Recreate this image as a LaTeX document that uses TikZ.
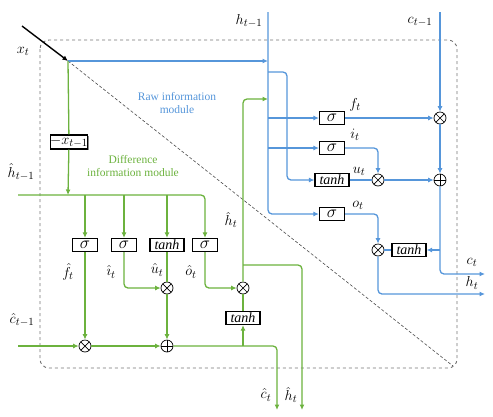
\documentclass[tikz,border=0pt]{standalone}
\usepackage{fontspec}
\setmainfont{Liberation Serif}
\usetikzlibrary{arrows.meta,shadows}
\definecolor{rawblue}{RGB}{86,150,218}
\definecolor{diffgreen}{RGB}{108,178,62}

\begin{document}
\begin{tikzpicture}[x=1pt,y=-1pt,>={Latex[length=5.5pt,width=5pt]},
	raw/.style={draw=rawblue, line width=1.3pt, rounded corners=4pt},
	diff/.style={draw=diffgreen, line width=1.3pt, rounded corners=4pt},
	gate/.style={draw, line width=1.2pt, fill=white, inner sep=0pt, minimum width=25pt, minimum height=13pt,
		drop shadow={shadow xshift=0.9pt, shadow yshift=-0.9pt, fill=black!45, opacity=1},
		font=\fontsize{16}{16}\selectfont},
	tgate/.style={gate, minimum width=34pt, font=\fontsize{14}{14}\selectfont\itshape},
	lab/.style={inner sep=0pt, font=\fontsize{15}{16}\selectfont},
	mul/.style={circle, draw, line width=0.7pt, fill=white, minimum size=12pt, inner sep=0pt,
		path picture={\draw[line width=0.7pt] (path picture bounding box.north west) -- (path picture bounding box.south east)
			(path picture bounding box.north east) -- (path picture bounding box.south west);}},
	add/.style={circle, draw, line width=0.7pt, fill=white, minimum size=12pt, inner sep=0pt,
		path picture={\draw[line width=0.7pt] (path picture bounding box.north) -- (path picture bounding box.south)
			(path picture bounding box.east) -- (path picture bounding box.west);}}]
	\useasboundingbox (0,0) rectangle (493,416);
	% frame and split
	\draw[dashed, black!55, line width=0.9pt, rounded corners=9pt] (40,40) rectangle (457,368);
	\coordinate (xs) at (22,26);
	\coordinate (xj) at (68,61);
	\draw[densely dashed, black!70, line width=0.6pt] (xj) -- (453,366);
	\draw[line width=1.4pt, ->] (xs) -- (xj);
	\node[lab] (xl) at (23,51) {$x_t$};
	% raw information module
	\coordinate (hx) at (268,61);
	\coordinate (htop) at (268,12);
	\coordinate (hb) at (268,72); \coordinate (hb2) at (287,72);
	\coordinate (hg) at (268,99);
	\coordinate (hf) at (268,118);
	\coordinate (hi) at (268,148);
	\coordinate (ctop) at (440,12);
	\coordinate (cb) at (440,250);
	\coordinate (cout) at (485,274);
	\coordinate (hout) at (485,294);
	\node[gate] (sf) at (332,118) {$\sigma$};
	\node[gate] (si) at (332,148) {$\sigma$};
	\node[tgate] (tu) at (332,180) {tanh};
	\node[gate] (so) at (332,214) {$\sigma$};
	\node[mul] (mf) at (440,118) {};
	\node[add] (ac) at (440,180) {};
	\node[mul] (mu) at (378,180) {};
	\node[mul] (mh) at (378,250) {};
	\node[tgate] (tc) at (409,250) {tanh};
	\draw[raw,->] (xj) -- (hx);
	\draw[raw,->] (htop) |- (so);
	\draw[raw,->] (hb) -- (hb2) |- (tu);
	\draw[raw,->] (hf) -- (sf);
	\draw[raw,->] (hi) -- (si);
	\draw[raw,->] (ctop) -- (mf);
	\draw[raw,->] (mf) -- (ac);
	\draw[raw,->] (ac) |- (cout);
	\draw[raw,->] (cb) -- (tc);
	\draw[raw] (tc) -- (mh);
	\draw[raw,->] (mh) |- (hout);
	\draw[raw,->] (sf) -- (mf);
	\draw[raw,->] (si) -| (mu);
	\draw[raw] (tu) -- (mu);
	\draw[raw,->] (mu) -- (ac);
	\draw[raw,->] (so) -| (mh);
	\node[lab] (hl1) at (249,21) {$h_{t-1}$};
	\node[lab] (cl1) at (420,22) {$c_{t-1}$};
	\node[lab] (fl) at (355,105) {$f_t$};
	\node[lab] (il) at (355,135) {$i_t$};
	\node[lab] (ul) at (359,171) {$u_t$};
	\node[lab] (ol) at (358,205) {$o_t$};
	\node[lab] (ctl) at (472,262) {$c_t$};
	\node[lab] (htl) at (472,283) {$h_t$};
	\node[text=rawblue, align=center, font=\fontsize{11.5}{13}\selectfont] (rawtxt) at (177,103) {Raw information\\module};
	% difference information module
	\node[gate, minimum width=34pt, minimum height=14pt, font=\fontsize{15}{15}\selectfont] (nx) at (69,142) {$-x_{t-1}$};
	\coordinate (gh) at (68,195);
	\coordinate (hl) at (18,195);
	\coordinate (b1) at (85,195); \coordinate (b2) at (124,195); \coordinate (b3) at (167,195);
	\coordinate (cl) at (18,346);
	\coordinate (gj) at (243,346);
	\coordinate (cend) at (277,410);
	\coordinate (hj) at (243,265);
	\coordinate (hend) at (302,410);
	\node[gate] (gsf) at (85,245) {$\sigma$};
	\node[gate] (gsi) at (124,245) {$\sigma$};
	\node[tgate] (gtu) at (167,245) {tanh};
	\node[gate] (gso) at (205,245) {$\sigma$};
	\node[mul] (gmf) at (85,346) {};
	\node[mul] (gmu) at (167,288) {};
	\node[add] (gac) at (167,346) {};
	\node[mul] (gmh) at (243,288) {};
	\node[tgate] (gtc) at (243,318) {tanh};
	\draw[diff] (xj) -- (nx);
	\draw[diff,->] (nx) -- (gh);
	\draw[diff,->] (hl) -| (gso);
	\draw[diff,->] (b1) -- (gsf);
	\draw[diff,->] (b2) -- (gsi);
	\draw[diff,->] (b3) -- (gtu);
	\draw[diff,->] (gsf) -- (gmf);
	\draw[diff,->] (gsi) |- (gmu);
	\draw[diff] (gtu) -- (gmu);
	\draw[diff,->] (gmu) -- (gac);
	\draw[diff,->] (gso) |- (gmh);
	\draw[diff,->] (cl) -- (gmf);
	\draw[diff,->] (gmf) -- (gac);
	\draw[diff,->] (gac) -| (cend);
	\draw[diff,->] (gj) -- (gtc);
	\draw[diff] (gtc) -- (gmh);
	\draw[diff,->] (gmh) |- (hg);
	\draw[diff,->] (hj) -| (hend);
	\node[lab] (hhl1) at (21,172) {$\hat{h}_{t-1}$};
	\node[lab] (hcl1) at (22,320) {$\hat{c}_{t-1}$};
	\node[lab] (hfl) at (68,272) {$\hat{f}_t$};
	\node[lab] (hil) at (111,272) {$\hat{\imath}_t$};
	\node[lab] (hul) at (157,270) {$\hat{u}_t$};
	\node[lab] (hol) at (191,272) {$\hat{o}_t$};
	\node[lab] (hhl) at (231,220) {$\hat{h}_t$};
	\node[lab] (hctl) at (266,395) {$\hat{c}_t$};
	\node[lab] (hhtl) at (291,395) {$\hat{h}_t$};
	\node[text=diffgreen, align=center, font=\fontsize{11.5}{13}\selectfont] (difftxt) at (133,166) {Difference\\information module};
\end{tikzpicture}
\end{document}
